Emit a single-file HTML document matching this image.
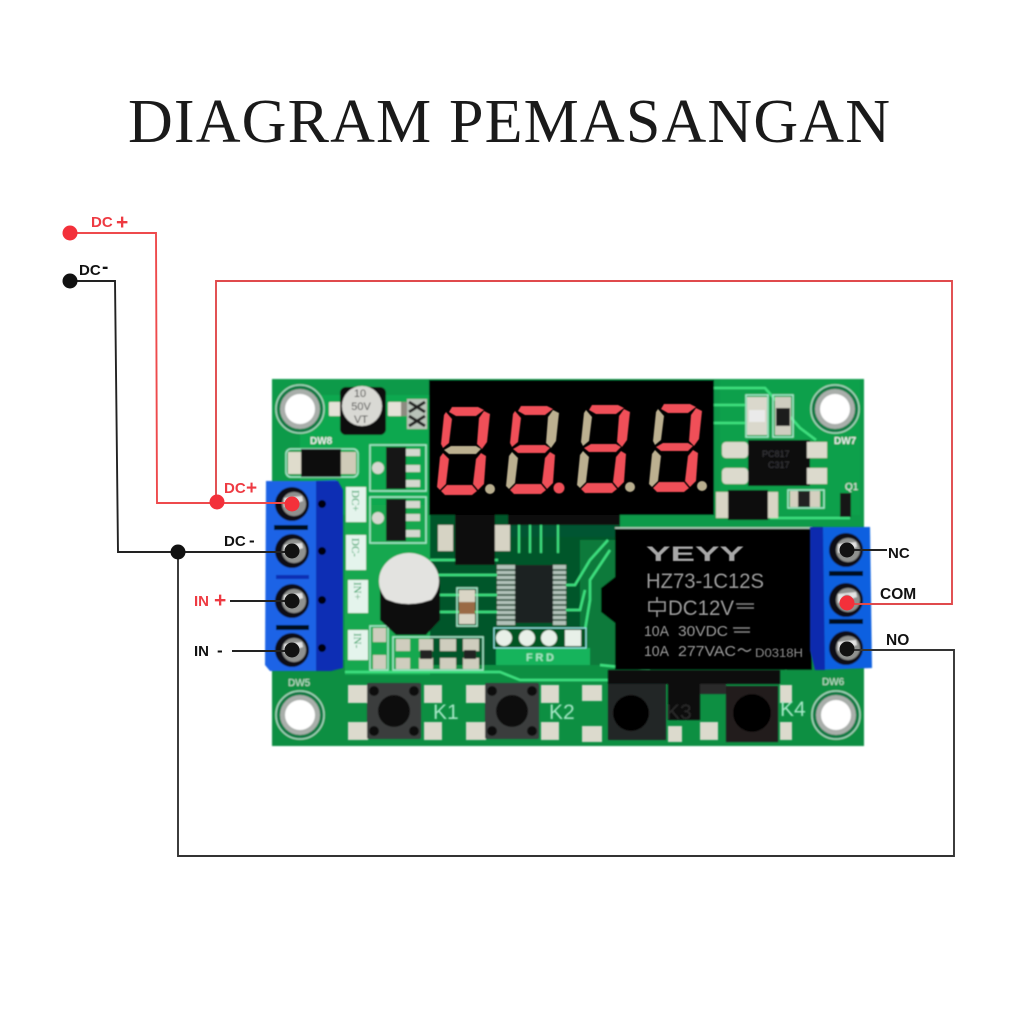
<!DOCTYPE html>
<html><head><meta charset="utf-8">
<style>html,body{margin:0;padding:0;background:#fff}svg{display:block}</style></head>
<body>
<svg width="1024" height="1024" viewBox="0 0 1024 1024" xmlns="http://www.w3.org/2000/svg">
<defs>
<filter id="b" x="-5%" y="-5%" width="110%" height="110%"><feGaussianBlur stdDeviation="0.7"/></filter>
<filter id="b2" x="-5%" y="-5%" width="110%" height="110%"><feGaussianBlur stdDeviation="0.4"/></filter>
<g id="hole">
  <circle r="24" fill="#0d7a45" stroke="#a8d8c0" stroke-width="1.5"/>
  <circle r="20" fill="#a9aeaa"/>
  <circle r="15" fill="#fff"/>
</g>
<g id="screw">
  <circle r="17" fill="#070a14"/>
  <circle cx="2" r="12" fill="#8f918f"/>
  <path d="M-8 -6L10 -8L11 -3L-8 3Z" fill="#e4e4e4"/>
  <circle cx="1" r="5" fill="#4a4a4a"/>
</g>
<g id="btn">
  <rect x="-27" y="-28" width="54" height="56" fill="#3a3d3c" rx="2"/>
  <circle cx="-20" cy="-20" r="5" fill="#111"/><circle cx="20" cy="-20" r="5" fill="#111"/>
  <circle cx="-20" cy="20" r="5" fill="#111"/><circle cx="20" cy="20" r="5" fill="#111"/>
  <circle r="16" fill="#0a0a0a"/>
</g>
<g id="pad"><rect width="20" height="14" fill="#e5e2d8" rx="1"/><rect x="13" width="7" height="14" fill="#8d8b80"/></g>
</defs>

<rect width="1024" height="1024" fill="#fff"/>
<text x="128" y="142" font-family="'Liberation Serif',serif" font-size="62" fill="#1a1a1a" textLength="762">DIAGRAM PEMASANGAN</text>

<!-- PCB -->
<g filter="url(#b)">
<rect x="272" y="379" width="592" height="367" fill="#0a9a48"/>
<rect x="272" y="660" width="592" height="86" fill="#0b8f42"/>
<rect x="300" y="395" width="130" height="120" fill="#10a84f"/>
<rect x="345" y="505" width="85" height="170" fill="#14a850"/>
<rect x="430" y="515" width="190" height="150" fill="#05562b"/>
<rect x="580" y="540" width="35" height="125" fill="#0a7a3a"/>
<rect x="720" y="380" width="140" height="135" fill="#0da04b"/>
<!-- traces -->
<g fill="none" stroke="#3ee07f" stroke-width="2.5">
  <path d="M714 388H765L800 428L816 440"/><path d="M714 405H745"/><path d="M714 423H745"/>
  <path d="M562 585H575L590 560L608 540"/><path d="M565 610H580L585 590"/><path d="M565 630H585L590 600V580L610 550"/>
  <path d="M430 560H498M430 575H498M435 595H498M435 612H498"/>
  <path d="M345 672H500L520 680H610"/><path d="M600 665L650 670"/>
  <path d="M785 670L790 660"/><path d="M770 518H850"/>
</g>
<g fill="none" stroke="#a8e8cc" stroke-width="1.5">
  <rect x="370" y="445" width="56" height="46"/><rect x="370" y="497" width="56" height="46"/>
  <rect x="286" y="449" width="72" height="28" rx="5"/>
  <rect x="457" y="588" width="20" height="38"/>
  <rect x="370" y="626" width="18" height="44"/><rect x="393" y="637" width="90" height="33"/>
  <rect x="746" y="395" width="22" height="42"/><rect x="773" y="395" width="20" height="42"/>
  <rect x="788" y="490" width="36" height="18"/>
</g>
<!-- FRD band -->
<rect x="496" y="648" width="94" height="17" fill="#19b45c"/>
<text x="526" y="661" font-family="'Liberation Sans',sans-serif" font-size="11" font-weight="bold" fill="#a8e8c8" textLength="28">FRD</text>
<!-- holes -->
<use href="#hole" x="300" y="409"/><use href="#hole" x="835" y="409"/>
<use href="#hole" x="300" y="715"/><use href="#hole" x="836" y="715"/>
<g font-family="'Liberation Sans',sans-serif" font-size="10" fill="#cfe8d8">
<text x="310" y="444" font-weight="bold" fill="#eee">DW8</text><text x="834" y="444" font-weight="bold" fill="#eee">DW7</text>
<text x="288" y="686">DW5</text><text x="822" y="685">DW6</text>
<text x="845" y="490" fill="#eee">Q1</text>
</g>
<!-- capacitor top -->
<use href="#pad" x="329" y="402"/><use href="#pad" x="388" y="402"/>
<rect x="340" y="387" width="46" height="48" fill="#111" rx="6"/>
<circle cx="362" cy="406" r="20" fill="#d9d9d4"/>
<g font-family="'Liberation Sans',sans-serif" font-size="11" fill="#444" text-anchor="middle"><text x="360" y="397">10</text><text x="361" y="410">50V</text><text x="361" y="423">VT</text></g>
<rect x="407" y="399" width="20" height="30" fill="#b8c2b8"/><path d="M409 402L425 412M425 402L409 412M409 416L425 426M425 416L409 426" stroke="#222" stroke-width="3"/>
<!-- DW8 diode -->
<rect x="288" y="452" width="14" height="22" fill="#dfdccc"/><rect x="340" y="452" width="16" height="22" fill="#cfcbb8"/>
<rect x="301" y="449" width="40" height="28" fill="#0c0c0c"/>
<!-- regulators -->
<rect x="386" y="447" width="20" height="42" fill="#141414"/><rect x="386" y="499" width="20" height="42" fill="#141414"/>
<g fill="#d5d8d0"><rect x="406" y="449" width="14" height="7"/><rect x="406" y="465" width="14" height="7"/><rect x="406" y="480" width="14" height="7"/>
<rect x="406" y="501" width="14" height="7"/><rect x="406" y="514" width="14" height="7"/><rect x="406" y="530" width="14" height="7"/>
<circle cx="378" cy="468" r="6"/><circle cx="378" cy="518" r="6"/></g>
<!-- silk labels -->
<g fill="#e4f4ec"><rect x="346" y="487" width="20" height="35"/><rect x="346" y="535" width="20" height="35"/><rect x="348" y="580" width="20" height="33"/><rect x="348" y="630" width="20" height="30"/></g>
<g font-family="'Liberation Serif',serif" font-size="11" fill="#139a55">
<text transform="translate(352,490) rotate(90)">DC+</text><text transform="translate(352,538) rotate(90)">DC-</text>
<text transform="translate(354,582) rotate(90)">IN+</text><text transform="translate(354,633) rotate(90)">IN-</text>
</g>
<!-- big cap -->
<path d="M380 585a30 30 0 0 1 60 0v35l-14 15h-30l-16-15z" fill="#111"/>
<ellipse cx="409" cy="581" rx="30" ry="28" fill="#e3e3e0"/>
<path d="M382 597q25 14 56 0v20l-12 17h-30l-14-15z" fill="#111"/>
<!-- small smd cluster -->
<g fill="#cfcdbe">
<rect x="373" y="628" width="13" height="14"/><rect x="373" y="655" width="13" height="14"/>
<rect x="396" y="639" width="14" height="12"/><rect x="396" y="658" width="14" height="11"/>
<rect x="419" y="639" width="14" height="12"/><rect x="419" y="658" width="14" height="11"/>
<rect x="440" y="639" width="16" height="12"/><rect x="440" y="658" width="16" height="11"/>
<rect x="463" y="639" width="16" height="12"/><rect x="463" y="658" width="16" height="11"/>
</g>
<rect x="420" y="650" width="12" height="9" fill="#222"/><rect x="464" y="650" width="12" height="9" fill="#222"/>
<!-- orange cap -->
<rect x="459" y="590" width="16" height="34" fill="#d9d5c5"/><rect x="459" y="602" width="16" height="12" fill="#9a6a45"/>
<!-- display -->
<rect x="429" y="380" width="285" height="135" fill="#020202"/>
<!-- under display dark section -->
<rect x="438" y="525" width="15" height="26" fill="#d6d3c4"/><rect x="495" y="525" width="15" height="26" fill="#d6d3c4"/><rect x="455" y="515" width="40" height="50" fill="#070707"/>
<rect x="508" y="515" width="112" height="10" fill="#111"/>
<rect x="510" y="525" width="105" height="12" fill="#053"/>
<path d="M519 525V553M530 525V553M541 525V553M558 525V553" stroke="#3ee07f" stroke-width="2.2"/>
<rect x="515" y="565" width="38" height="58" fill="#1c2220"/>
<g fill="#ddd"><rect x="497" y="565" width="18" height="60" opacity=".8"/><rect x="553" y="565" width="13" height="60" opacity=".8"/></g>
<g stroke="#0b3a22" stroke-width="1.6"><path d="M497 570h18M497 575h18M497 580h18M497 585h18M497 590h18M497 595h18M497 600h18M497 605h18M497 610h18M497 615h18M497 620h18M553 570h13M553 575h13M553 580h13M553 585h13M553 590h13M553 595h13M553 600h13M553 605h13M553 610h13M553 615h13M553 620h13"/></g>
<!-- FRD pads -->
<rect x="494" y="628" width="92" height="20" fill="#052" stroke="#9ee" stroke-width="1"/>
<circle cx="504" cy="638" r="8" fill="#e8f0e8"/><circle cx="527" cy="638" r="8" fill="#e8f0e8"/><circle cx="549" cy="638" r="8" fill="#e8f0e8"/><rect x="565" y="630" width="16" height="16" fill="#e8f0e8"/>
<!-- optocoupler -->
<rect x="748" y="440" width="62" height="46" fill="#0d0d10"/>
<g fill="#dcdacd"><rect x="722" y="442" width="26" height="16" rx="4"/><rect x="722" y="468" width="26" height="16" rx="4"/><rect x="807" y="442" width="20" height="16"/><rect x="807" y="468" width="20" height="16"/></g>
<text x="762" y="457" font-family="'Liberation Sans',sans-serif" font-size="9" fill="#3a3a3e">PC817</text><text x="768" y="468" font-family="'Liberation Sans',sans-serif" font-size="9" fill="#3a3a3e">C317</text>
<!-- top right smds -->
<rect x="747" y="397" width="20" height="38" fill="#dad8cc"/><rect x="749" y="410" width="16" height="12" fill="#eaeaea"/>
<rect x="775" y="397" width="16" height="38" fill="#cfcdc0"/><rect x="776" y="408" width="14" height="18" fill="#1a1a1a"/>
<!-- bottom-right diode -->
<rect x="716" y="492" width="62" height="26" fill="#d8d5c5"/><rect x="728" y="490" width="40" height="30" fill="#0b0b0b"/>
<rect x="790" y="491" width="30" height="16" fill="#d4d0c0"/><rect x="798" y="491" width="12" height="16" fill="#222"/>
<rect x="840" y="493" width="11" height="24" fill="#131313"/>
<!-- relay -->
<path d="M615 528H812V670H615V623L601 612V588L615 577Z" fill="#050505"/>
<path d="M615 528H812" stroke="#bcd8c8" stroke-width="1.5"/>
</g>
<g filter="url(#b2)" font-family="'Liberation Sans',sans-serif" fill="#9b9b9b">
<text x="646" y="561" font-size="21" font-weight="bold" textLength="98" lengthAdjust="spacingAndGlyphs" fill="#a8a8a8">YEYY</text>
<text x="646" y="588" font-size="21" textLength="118" lengthAdjust="spacingAndGlyphs">HZ73-1C12S</text>
<text x="668" y="615" font-size="21" textLength="66" lengthAdjust="spacingAndGlyphs">DC12V</text>
<path d="M649 602h16v9h-16zM657 597v5M657 611v6" fill="none" stroke="#9b9b9b" stroke-width="1.6"/>
<path d="M736 604h18M737 608h17" stroke="#8a8a8a" stroke-width="1.5" fill="none"/>
<text x="644" y="636" font-size="15" textLength="25" lengthAdjust="spacingAndGlyphs">10A</text>
<text x="678" y="636" font-size="15" textLength="50" lengthAdjust="spacingAndGlyphs">30VDC</text>
<path d="M733 628h17M734 632h16" stroke="#8a8a8a" stroke-width="1.4" fill="none"/>
<text x="644" y="656" font-size="15" textLength="25" lengthAdjust="spacingAndGlyphs">10A</text>
<text x="678" y="656" font-size="15" textLength="58" lengthAdjust="spacingAndGlyphs">277VAC</text>
<path d="M738 651q3 -4 6 -1t7 -1" fill="none" stroke="#8f8f8f" stroke-width="1.5"/>
<text x="755" y="657" font-size="11.5" textLength="48" lengthAdjust="spacingAndGlyphs" fill="#8f8f8f">D0318H</text>
</g>
<g filter="url(#b)">
<!-- blue terminals -->
<path d="M266 481H312L336 480L340 490V668L330 671H270L265 665Z" fill="#1a63e6"/>
<path d="M316 481H338L343 490V668L331 671H316Z" fill="#0b2fb4"/>
<rect x="274" y="525" width="34" height="5" fill="#05081a"/><rect x="276" y="625" width="33" height="5" fill="#05081a"/>
<rect x="276" y="575" width="33" height="4" fill="#0b2fb4"/>
<use href="#screw" x="292" y="504"/><use href="#screw" x="292" y="551"/><use href="#screw" x="292" y="601"/><use href="#screw" x="292" y="650"/>
<circle cx="322" cy="504" r="4" fill="#050510"/><circle cx="322" cy="551" r="4" fill="#050510"/><circle cx="322" cy="600" r="4" fill="#050510"/><circle cx="322" cy="648" r="4" fill="#050510"/>
<path d="M810 527H870L872 668L815 670L810 650Z" fill="#1060e0"/>
<path d="M810 527H823L825 670H815L810 650Z" fill="#0b2cae"/>
<rect x="829" y="571" width="34" height="5" fill="#05081a"/><rect x="829" y="619" width="34" height="5" fill="#05081a"/>
<use href="#screw" x="846" y="550"/><use href="#screw" x="846" y="600"/><use href="#screw" x="846" y="648"/>
<!-- buttons -->
<g fill="#dcdacd">
<rect x="348" y="685" width="20" height="18"/><rect x="424" y="685" width="18" height="18"/><rect x="348" y="722" width="20" height="18"/><rect x="424" y="722" width="18" height="18"/>
<rect x="466" y="685" width="20" height="18"/><rect x="541" y="685" width="18" height="18"/><rect x="466" y="722" width="20" height="18"/><rect x="541" y="722" width="18" height="18"/>
<rect x="582" y="685" width="20" height="16"/><rect x="582" y="726" width="20" height="16"/><rect x="668" y="726" width="14" height="16"/>
<rect x="700" y="722" width="18" height="18"/><rect x="780" y="722" width="12" height="18"/><rect x="780" y="685" width="12" height="18"/>
</g>
<use href="#btn" x="394" y="711"/><use href="#btn" x="512" y="711"/>
<rect x="608" y="682" width="58" height="58" fill="#232625"/><circle cx="631" cy="713" r="18" fill="#060606"/>
<rect x="726" y="686" width="52" height="56" fill="#221f1e"/><circle cx="752" cy="713" r="19" fill="#060606"/>
<rect x="668" y="680" width="32" height="40" fill="#0a0a0a"/>
<rect x="700" y="682" width="26" height="12" fill="#2a2a2a"/>
<rect x="608" y="670" width="172" height="14" fill="#070707"/>
<g font-family="'Liberation Sans',sans-serif" font-size="21" fill="#a8e8c8"><text x="433" y="719">K1</text><text x="549" y="719">K2</text><text x="666" y="719" fill="#2b2b2b">K3</text><text x="780" y="716">K4</text></g>
</g>
<!-- digits -->
<g filter="url(#b2)">
<g id="d1">
  <path d="M452 407H478L484 410L476 416H456L449 412Z" fill="#f05058"/>
  <path d="M446 412L452 419L449 443L443 448L441 444L444 415Z" fill="#f05058"/>
  <path d="M484 411L490 414L487 442L482 449L477 444L479 418Z" fill="#f05058"/>
  <path d="M444 450L451 446H476L481 449L476 454H449Z" fill="#bcb090"/>
  <path d="M443 453L449 459L446 484L440 490L437 487L440 457Z" fill="#f05058"/>
  <path d="M481 453L486 456L484 484L478 490L473 484L476 459Z" fill="#f05058"/>
  <path d="M441 491L447 485H472L477 491L472 495H445Z" fill="#f05058"/>
  <circle cx="490" cy="489" r="5" fill="#b9ae8e"/>
</g>
<g transform="translate(69,-1)">
  <path d="M452 407H478L484 410L476 416H456L449 412Z" fill="#f05058"/>
  <path d="M446 412L452 419L449 443L443 448L441 444L444 415Z" fill="#f05058"/>
  <path d="M484 411L490 414L487 442L482 449L477 444L479 418Z" fill="#bcb090"/>
  <path d="M444 450L451 446H476L481 449L476 454H449Z" fill="#f05058"/>
  <path d="M443 453L449 459L446 484L440 490L437 487L440 457Z" fill="#bcb090"/>
  <path d="M481 453L486 456L484 484L478 490L473 484L476 459Z" fill="#f05058"/>
  <path d="M441 491L447 485H472L477 491L472 495H445Z" fill="#f05058"/>
  <circle cx="490" cy="489" r="5.5" fill="#f05058"/>
</g>
<g transform="translate(140,-2)">
  <path d="M452 407H478L484 410L476 416H456L449 412Z" fill="#f05058"/>
  <path d="M446 412L452 419L449 443L443 448L441 444L444 415Z" fill="#bcb090"/>
  <path d="M484 411L490 414L487 442L482 449L477 444L479 418Z" fill="#f05058"/>
  <path d="M444 450L451 446H476L481 449L476 454H449Z" fill="#f05058"/>
  <path d="M443 453L449 459L446 484L440 490L437 487L440 457Z" fill="#bcb090"/>
  <path d="M481 453L486 456L484 484L478 490L473 484L476 459Z" fill="#f05058"/>
  <path d="M441 491L447 485H472L477 491L472 495H445Z" fill="#f05058"/>
  <circle cx="490" cy="489" r="5" fill="#b9ae8e"/>
</g>
<g transform="translate(212,-3)">
  <path d="M452 407H478L484 410L476 416H456L449 412Z" fill="#f05058"/>
  <path d="M446 412L452 419L449 443L443 448L441 444L444 415Z" fill="#bcb090"/>
  <path d="M484 411L490 414L487 442L482 449L477 444L479 418Z" fill="#f05058"/>
  <path d="M444 450L451 446H476L481 449L476 454H449Z" fill="#f05058"/>
  <path d="M443 453L449 459L446 484L440 490L437 487L440 457Z" fill="#bcb090"/>
  <path d="M481 453L486 456L484 484L478 490L473 484L476 459Z" fill="#f05058"/>
  <path d="M441 491L447 485H472L477 491L472 495H445Z" fill="#f05058"/>
  <circle cx="490" cy="489" r="5" fill="#b9ae8e"/>
</g>
</g>
<!-- wires -->
<g fill="none" stroke-width="1.9" stroke-linejoin="miter">
  <path d="M70 233H156L157 503H292" stroke="#ee4a4c"/>
  <path d="M216 501V281H952V604H847" stroke="#e04a4c"/>
  <path d="M70 281H115L118 552H292" stroke="#222"/>
  <path d="M178 552V856H954V650H847" stroke="#333"/>
  <path d="M230 601H292" stroke="#222"/>
  <path d="M232 651H292" stroke="#222"/>
  <path d="M847 550H887" stroke="#222"/>
</g>
<circle cx="70" cy="233" r="7.5" fill="#f3303a"/>
<circle cx="70" cy="281" r="7.5" fill="#111"/>
<circle cx="217" cy="502" r="7.5" fill="#f3303a"/>
<circle cx="178" cy="552" r="7.5" fill="#111"/>
<circle cx="292" cy="504" r="7.5" fill="#f3303a"/>
<circle cx="292" cy="551" r="7.5" fill="#111"/>
<circle cx="292" cy="601" r="7.5" fill="#111"/>
<circle cx="292" cy="650" r="7.5" fill="#111"/>
<circle cx="847" cy="550" r="7.5" fill="#111"/>
<circle cx="847" cy="603" r="7.5" fill="#f3303a"/>
<circle cx="847" cy="649" r="7.5" fill="#111"/>
<!-- labels -->
<g font-family="'Liberation Sans',sans-serif" font-weight="bold" font-size="15">
  <text x="91" y="227" fill="#ee3a42">DC</text><text x="116" y="229" fill="#ee3a42" font-size="21">+</text>
  <text x="79" y="275" fill="#111">DC</text><text x="102" y="273" fill="#111" font-size="19">-</text>
  <text x="224" y="493" fill="#ee3a42">DC</text><text x="246" y="494" fill="#ee3a42" font-size="19">+</text>
  <text x="224" y="546" fill="#111">DC</text><text x="249" y="546" fill="#111" font-size="17">-</text>
  <text x="194" y="606" fill="#ee3a42">IN</text><text x="214" y="607" fill="#ee3a42" font-size="21">+</text>
  <text x="194" y="656" fill="#111">IN</text><text x="217" y="656" fill="#111" font-size="17">-</text>
  <text x="888" y="558" fill="#111">NC</text>
  <text x="880" y="599" fill="#111" font-size="15.5">COM</text>
  <text x="886" y="645" fill="#111" font-size="15.5">NO</text>
</g>
</svg>
</body></html>
